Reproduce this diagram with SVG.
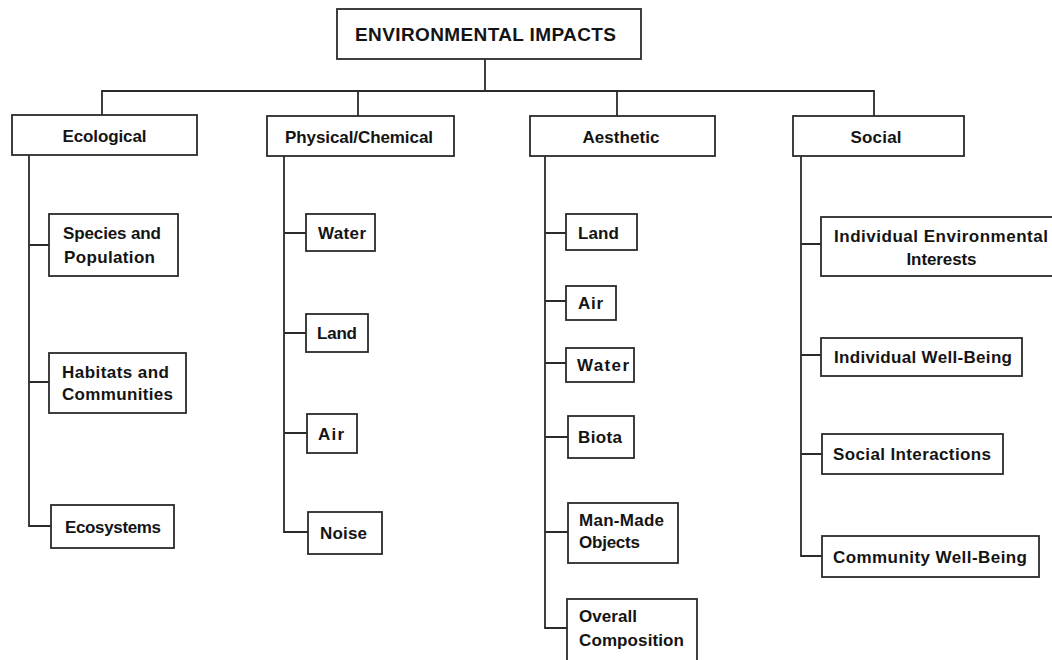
<svg xmlns="http://www.w3.org/2000/svg" width="1052" height="660" viewBox="0 0 1052 660">
<style>
  .box { fill: #ffffff; stroke: #2b2b2b; stroke-width: 1.8; }
  .ln { fill: none; stroke: #2b2b2b; stroke-width: 1.8; stroke-linecap: square; }
  text { font-family: "Liberation Sans", Arial, sans-serif; font-weight: bold; font-size: 17px; fill: #141414; }
  .title { font-size: 19px; }
  .mid { text-anchor: middle; }
</style>
<rect x="0" y="0" width="1052" height="660" fill="#ffffff"/>

<g id="connectors">
  <path class="ln" d="M485 59 V91 M102 91 H874 M102 91 V115 M358 91 V116 M617 91 V116 M874 91 V116"/>
  <path class="ln" d="M29 155 V526 M29 245 H49 M29 382 H49 M29 526 H51"/>
  <path class="ln" d="M284 156 V532 M284 233 H306 M284 333 H306 M284 433 H307 M284 532 H308"/>
  <path class="ln" d="M545 156 V628 M545 233 H566 M545 301 H566 M545 363 H566 M545 437 H568 M545 532 H568 M545 628 H567"/>
  <path class="ln" d="M801 156 V556 M801 244 H821 M801 355 H821 M801 454 H822 M801 556 H822"/>
</g>

<g id="root">
  <rect class="box" x="337" y="9" width="304" height="50"/>
  <text class="title mid" x="485.5" y="40.5" textLength="261" lengthAdjust="spacing">ENVIRONMENTAL IMPACTS</text>
</g>

<g id="ecological">
  <rect class="box" x="12" y="115" width="185" height="40"/>
  <text class="mid" x="104.5" y="141.5" textLength="84" lengthAdjust="spacing">Ecological</text>
</g>
<g id="physical-chemical">
  <rect class="box" x="267" y="116" width="187" height="40"/>
  <text class="mid" x="359" y="142.5" textLength="148" lengthAdjust="spacing">Physical/Chemical</text>
</g>
<g id="aesthetic">
  <rect class="box" x="530" y="116" width="185" height="40"/>
  <text class="mid" x="621" y="142.5" textLength="77" lengthAdjust="spacing">Aesthetic</text>
</g>
<g id="social">
  <rect class="box" x="793" y="116" width="171" height="40"/>
  <text class="mid" x="876" y="142.5" textLength="51" lengthAdjust="spacing">Social</text>
</g>

<g id="eco-species">
  <rect class="box" x="49" y="214" width="129" height="62"/>
  <text x="63" y="239" textLength="98" lengthAdjust="spacing">Species and</text>
  <text x="64" y="263" textLength="91" lengthAdjust="spacing">Population</text>
</g>
<g id="eco-habitats">
  <rect class="box" x="49" y="353" width="137" height="60"/>
  <text x="62" y="378" textLength="107" lengthAdjust="spacing">Habitats and</text>
  <text x="62" y="400" textLength="111" lengthAdjust="spacing">Communities</text>
</g>
<g id="eco-ecosystems">
  <rect class="box" x="51" y="505" width="123" height="43"/>
  <text x="65" y="532.5" textLength="96" lengthAdjust="spacing">Ecosystems</text>
</g>

<g id="phys-water">
  <rect class="box" x="306" y="214" width="69" height="37"/>
  <text x="318" y="239" textLength="48" lengthAdjust="spacing">Water</text>
</g>
<g id="phys-land">
  <rect class="box" x="306" y="314" width="62" height="38"/>
  <text x="317" y="339" textLength="40" lengthAdjust="spacing">Land</text>
</g>
<g id="phys-air">
  <rect class="box" x="307" y="414" width="50" height="39"/>
  <text x="318" y="439.5" textLength="26" lengthAdjust="spacing">Air</text>
</g>
<g id="phys-noise">
  <rect class="box" x="308" y="512" width="74" height="42"/>
  <text x="320" y="539" textLength="47" lengthAdjust="spacing">Noise</text>
</g>

<g id="aes-land">
  <rect class="box" x="566" y="214" width="71" height="36"/>
  <text x="578" y="238.5" textLength="41" lengthAdjust="spacing">Land</text>
</g>
<g id="aes-air">
  <rect class="box" x="566" y="286" width="50" height="34"/>
  <text x="578" y="309" textLength="25" lengthAdjust="spacing">Air</text>
</g>
<g id="aes-water">
  <rect class="box" x="566" y="348" width="68" height="34"/>
  <text x="577" y="371" textLength="52" lengthAdjust="spacing">Water</text>
</g>
<g id="aes-biota">
  <rect class="box" x="568" y="416" width="66" height="42"/>
  <text x="578" y="443" textLength="44" lengthAdjust="spacing">Biota</text>
</g>
<g id="aes-manmade">
  <rect class="box" x="568" y="503" width="110" height="60"/>
  <text x="579" y="526" textLength="85" lengthAdjust="spacing">Man-Made</text>
  <text x="579" y="548" textLength="61" lengthAdjust="spacing">Objects</text>
</g>
<g id="aes-overall">
  <rect class="box" x="567" y="599" width="130" height="72"/>
  <text x="579" y="622" textLength="58" lengthAdjust="spacing">Overall</text>
  <text x="579" y="646" textLength="105" lengthAdjust="spacing">Composition</text>
</g>

<g id="soc-env-interests">
  <rect class="box" x="821" y="217" width="250" height="59"/>
  <text class="mid" x="941" y="242" textLength="214" lengthAdjust="spacing">Individual Environmental</text>
  <text class="mid" x="941.5" y="265" textLength="70" lengthAdjust="spacing">Interests</text>
</g>
<g id="soc-individual">
  <rect class="box" x="821" y="338" width="201" height="38"/>
  <text x="834" y="363" textLength="178" lengthAdjust="spacing">Individual Well-Being</text>
</g>
<g id="soc-interactions">
  <rect class="box" x="822" y="434" width="181" height="40"/>
  <text x="833" y="460" textLength="158" lengthAdjust="spacing">Social Interactions</text>
</g>
<g id="soc-community">
  <rect class="box" x="822" y="536" width="217" height="41"/>
  <text x="833" y="562.5" textLength="194" lengthAdjust="spacing">Community Well-Being</text>
</g>
</svg>
